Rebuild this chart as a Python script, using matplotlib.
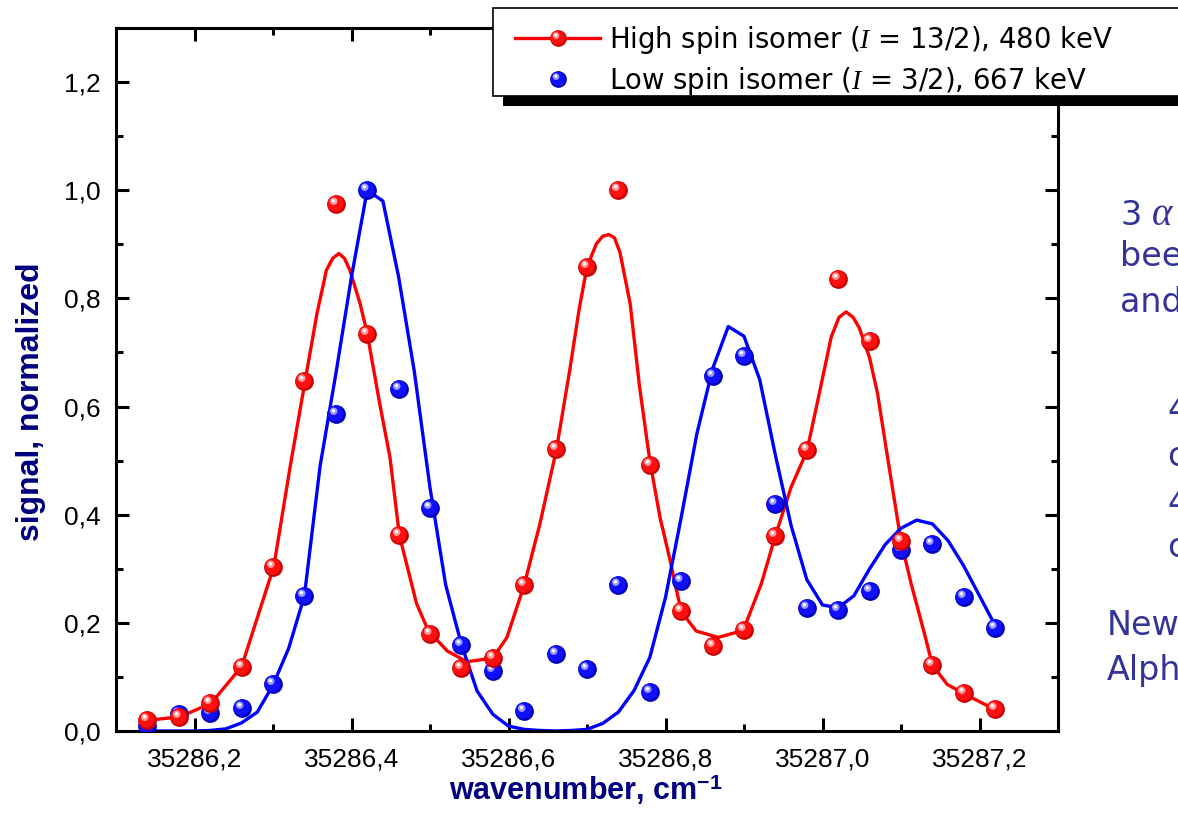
import numpy as np
import matplotlib
matplotlib.use("Agg")
import matplotlib.pyplot as plt
from matplotlib.path import Path
from matplotlib.patches import Rectangle
from matplotlib.lines import Line2D
from matplotlib.ticker import MultipleLocator, FuncFormatter

plt.rcParams['font.family'] = ['Liberation Sans', 'DejaVu Sans']
plt.rcParams['mathtext.fontset'] = 'custom'
plt.rcParams['mathtext.rm'] = 'Liberation Sans'
plt.rcParams['mathtext.it'] = 'Liberation Serif:italic'
plt.rcParams['mathtext.bf'] = 'Liberation Sans:bold'

# measured points, x step 0.04 cm-1
wavenumber = 35286.14 + 0.04 * np.arange(28)
high_spin = [0.020, 0.026, 0.051, 0.119, 0.304, 0.648, 0.975, 0.735, 0.362, 0.180,
             0.117, 0.135, 0.270, 0.521, 0.858, 1.000, 0.491, 0.221, 0.157, 0.186,
             0.361, 0.520, 0.836, 0.722, 0.351, 0.122, 0.070, 0.040]
low_spin = [0.009, 0.031, 0.033, 0.043, 0.086, 0.249, 0.586, 1.000, 0.633, 0.413,
            0.159, 0.111, 0.037, 0.142, 0.115, 0.270, 0.072, 0.278, 0.656, 0.693,
            0.419, 0.227, 0.223, 0.258, 0.335, 0.346, 0.247, 0.191]

# fitted curves
high_fit_x = [35286.141, 35286.181, 35286.221, 35286.260, 35286.301, 35286.322, 35286.341,
              35286.356, 35286.368, 35286.376, 35286.384, 35286.391, 35286.398, 35286.411,
              35286.420, 35286.436, 35286.449, 35286.461, 35286.483, 35286.498, 35286.522,
              35286.547, 35286.580, 35286.598, 35286.620, 35286.640, 35286.661, 35286.678,
              35286.690, 35286.700, 35286.712, 35286.720, 35286.728, 35286.735, 35286.742,
              35286.755, 35286.767, 35286.780, 35286.793, 35286.805, 35286.820, 35286.839,
              35286.867, 35286.899, 35286.922, 35286.940, 35286.960, 35286.980, 35286.994,
              35287.011, 35287.021, 35287.030, 35287.039, 35287.047, 35287.060, 35287.070,
              35287.083, 35287.100, 35287.113, 35287.129, 35287.140, 35287.159, 35287.179,
              35287.219]
high_fit_y = [0.020, 0.026, 0.051, 0.119, 0.304, 0.490, 0.648,
              0.772, 0.852, 0.874, 0.883, 0.874, 0.852, 0.790,
              0.735, 0.605, 0.506, 0.362, 0.235, 0.185, 0.148,
              0.128, 0.135, 0.173, 0.270, 0.383, 0.520, 0.667,
              0.780, 0.858, 0.901, 0.915, 0.918, 0.912, 0.885,
              0.790, 0.636, 0.500, 0.395, 0.321, 0.221, 0.185,
              0.173, 0.186, 0.272, 0.361, 0.451, 0.517, 0.611,
              0.728, 0.765, 0.775, 0.765, 0.745, 0.690, 0.625,
              0.505, 0.351, 0.272, 0.185, 0.122, 0.086, 0.070,
              0.040]

low_fit_x = 35286.14 + 0.02 * np.arange(55)
low_fit_y = [0.000, 0.000, 0.000, 0.000, 0.001, 0.004, 0.015, 0.035, 0.085, 0.153,
             0.250, 0.490, 0.660, 0.840, 1.000, 0.980, 0.840, 0.665, 0.450, 0.270,
             0.160, 0.074, 0.031, 0.009, 0.003, 0.001, 0.000, 0.001, 0.003, 0.014,
             0.035, 0.075, 0.136, 0.247, 0.395, 0.550, 0.670, 0.748, 0.730, 0.650,
             0.510, 0.380, 0.280, 0.233, 0.228, 0.250, 0.300, 0.345, 0.375, 0.390,
             0.383, 0.352, 0.305, 0.250, 0.195]

red = '#ff0000'
blue = '#0000ff'
navy = '#000080'
slate = '#333399'


def ball(cx, cy, r):
    # circle inside a fixed [-1, 1] box so every layer scales the same
    circ = Path.circle((cx, cy), r)
    box = Path([(-1, -1), (1, 1)], [Path.MOVETO, Path.MOVETO])
    return Path.make_compound_path(circ, box)


layers = [ball(0, 0, 1.0), ball(-0.1, 0.1, 0.86), ball(-0.3, 0.35, 0.4), ball(-0.33, 0.4, 0.18)]
red_shades = ['#c80000', '#ff1010', '#ff9a9a', '#ffffff']
blue_shades = ['#0000b4', '#1010ff', '#9a9aff', '#ffffff']

fig = plt.figure(figsize=(11.78, 8.31), dpi=100)
ax = fig.add_axes([116 / 1178, 100 / 831, 942 / 1178, 703 / 831])

ax.plot(high_fit_x, high_fit_y, color=red, lw=2.4, zorder=2, solid_joinstyle='round')
ax.plot(low_fit_x, low_fit_y, color=blue, lw=2.4, zorder=2)

for p, c in zip(layers, blue_shades):
    ax.plot(wavenumber, low_spin, ls='none', marker=p, ms=13.5, mfc=c, mec='none', zorder=3)
for p, c in zip(layers, red_shades):
    ax.plot(wavenumber, high_spin, ls='none', marker=p, ms=13.5, mfc=c, mec='none', zorder=4)

ax.set_xlim(35286.10, 35287.30)
ax.set_ylim(0, 1.3)
ax.xaxis.set_major_locator(MultipleLocator(0.2))
ax.xaxis.set_minor_locator(MultipleLocator(0.1))
ax.yaxis.set_major_locator(MultipleLocator(0.2))
ax.yaxis.set_minor_locator(MultipleLocator(0.1))
comma = FuncFormatter(lambda v, pos: f'{v:.1f}'.replace('.', ','))
ax.xaxis.set_major_formatter(comma)
ax.yaxis.set_major_formatter(comma)
ax.tick_params(which='both', direction='in', top=True, right=True, width=2.2, labelsize=19)
ax.tick_params(which='major', length=9.5)
ax.tick_params(which='minor', length=5)
ax.tick_params(axis='x', pad=12)
ax.tick_params(axis='y', pad=11)
for s in ax.spines.values():
    s.set_linewidth(2.2)

ax.set_xlabel('wavenumber, cm$^{\\mathbf{-1}}$', fontsize=22, fontweight='bold', color=navy)
ax.set_ylabel('signal, normalized', fontsize=23, fontweight='bold', color=navy)
ax.xaxis.set_label_coords(0.499, -0.058)
ax.yaxis.set_label_coords(-0.074, 0.469)

# legend box with a hard shadow, running off the right edge
fig.add_artist(Rectangle((503 / 1178, 1 - 106 / 831), 800 / 1178, 88 / 831,
                         transform=fig.transFigure, fc='black', ec='none', zorder=3))
fig.add_artist(Rectangle((493 / 1178, 1 - 96 / 831), 800 / 1178, 88 / 831,
                         transform=fig.transFigure, fc='white', ec='black', lw=1.2, zorder=4))

h_red = [Line2D([], [], color=red, lw=2.4, marker=layers[0], ms=12, mfc=red_shades[0], mec='none')]
h_red += [Line2D([], [], ls='none', marker=p, ms=12, mfc=c, mec='none')
          for p, c in zip(layers[1:], red_shades[1:])]
h_blue = [Line2D([], [], ls='none', marker=p, ms=12, mfc=c, mec='none')
          for p, c in zip(layers, blue_shades)]
fig.legend([tuple(h_red), tuple(h_blue)],
           ['High spin isomer ($I$ = 13/2), 480 keV', 'Low spin isomer ($I$ = 3/2), 667 keV'],
           loc='upper left', bbox_to_anchor=(515 / 1178, 1 - 24 / 831), frameon=False,
           prop={'family': 'DejaVu Sans', 'size': 19.8}, numpoints=1, handlelength=3.1,
           handletextpad=0.33, labelspacing=0.33, borderpad=0, borderaxespad=0)

# text of the slide, cut by the right edge
side = [(1120, 225, '3'), (1120, 266, 'been'), (1120, 312, 'and'),
        (1167, 420, '4'), (1167, 466, 'c'), (1167, 513, '4'), (1167, 557, 'c'),
        (1107, 635, 'New'), (1107, 680, 'Alpha')]
for px, py, t in side:
    fig.text(px / 1178, 1 - py / 831, t, color=slate, fontsize=24, family='DejaVu Sans',
             va='baseline', ha='left')
fig.text(1152 / 1178, 1 - 225 / 831, '\u03b1 decays', color=slate, fontsize=28,
         family='Liberation Serif', style='italic', va='baseline', ha='left')

fig.savefig('out.png', dpi=100)
